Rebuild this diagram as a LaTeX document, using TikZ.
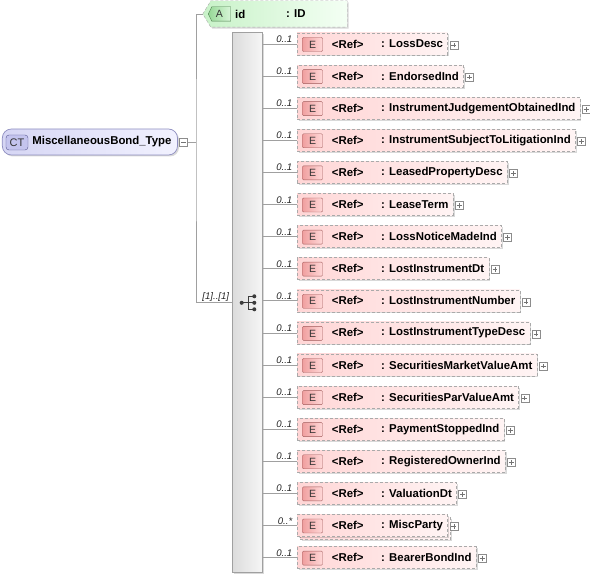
\documentclass[tikz,border=0pt]{standalone}
\usepackage{fontspec}
\setmainfont{Liberation Sans}
\usetikzlibrary{calc,shadows}
\definecolor{pinkL}{HTML}{FFD6D6}
\definecolor{pinkR}{HTML}{FFF4F4}
\definecolor{dashc}{HTML}{AAAAAA}
\definecolor{linec}{HTML}{A0A0A0}
\definecolor{eiconL}{HTML}{F0A0A0}
\definecolor{eiconR}{HTML}{FFD8D8}
\definecolor{eiconB}{HTML}{A05A5A}
\definecolor{greenL}{HTML}{C8F2C8}
\definecolor{greenR}{HTML}{F4FFF4}
\definecolor{aiconL}{HTML}{96D896}
\definecolor{aiconR}{HTML}{D8F6D8}
\definecolor{aiconB}{HTML}{4F7F4F}
\definecolor{ctL}{HTML}{D6D6F4}
\definecolor{ctR}{HTML}{F2F2FF}
\definecolor{ctB}{HTML}{8E8EC0}
\definecolor{cticonF}{HTML}{C4C4EE}
\definecolor{cticonB}{HTML}{55558F}
\definecolor{seqL}{HTML}{DCDCDC}
\definecolor{seqR}{HTML}{F6F6F6}
\definecolor{iconc}{HTML}{3C3C3C}
\newcommand\bfnt{\fontsize{11.4}{13}\selectfont\bfseries}
\newcommand\occfnt{\fontsize{9.6}{11}\selectfont\itshape}
\tikzset{
  shad/.style={drop shadow={shadow xshift=1.5pt,shadow yshift=-1.5pt,fill=black,opacity=0.15}},
  elem/.style={draw=dashc, dash pattern=on 3pt off 2pt, left color=pinkL, right color=pinkR,
    minimum height=22, inner xsep=0, inner ysep=0, anchor=west, font=\bfnt, shad},
  eicon/.style={draw=eiconB, left color=eiconL, right color=eiconR, minimum width=20,
    minimum height=14, inner sep=0, rounded corners=1pt, font=\fontsize{10.5}{12}\selectfont, text=black!80},
  reft/.style={anchor=west, font=\bfnt, inner sep=0},
  occ/.style={anchor=south east, font=\occfnt, inner sep=0, text=black!85},
  plusb/.style={draw=black!45, fill=white, minimum size=8, inner sep=0,
    path picture={\draw[black!55,line width=0.5pt]
      ([xshift=1.6pt]path picture bounding box.west) -- ([xshift=-1.6pt]path picture bounding box.east)
      ([yshift=1.6pt]path picture bounding box.south) -- ([yshift=-1.6pt]path picture bounding box.north);}},
  minusb/.style={draw=black!45, fill=white, minimum size=8, inner sep=0,
    path picture={\draw[black!55,line width=0.5pt]
      ([xshift=1.6pt]path picture bounding box.west) -- ([xshift=-1.6pt]path picture bounding box.east);}},
  conn/.style={draw=linec, line width=0.7pt},
}
\begin{document}
\begin{tikzpicture}[x=1pt,y=-1pt]
\useasboundingbox (0,0) rectangle (590,577);

% complex type node
\node[draw=ctB, left color=ctL, right color=ctR, rounded corners=9pt, minimum height=26,
  inner xsep=0, anchor=west, font=\bfnt, line width=0.7pt, shad] (ct) at (2,142)
  {\hspace*{30pt}MiscellaneousBond\_Type\hspace*{6pt}};
\node[draw=cticonB, fill=cticonF, rounded corners=3pt, minimum width=22, minimum height=15,
  inner sep=0, font=\fontsize{11}{12}\selectfont, text=black!80] (cticon) at (17,142.5) {CT};
\node[minusb] (ctminus) at (183.5,142) {};

% attribute id
\node[minimum width=144, minimum height=26, inner sep=0] (idb) at (275,14) {};
\path[draw=dashc, dash pattern=on 3pt off 2pt, left color=greenL, right color=greenR, shad]
  (idb.west) -- ($(idb.north west)+(8,0)$) -- (idb.north east) -- (idb.south east)
  -- ($(idb.south west)+(8,0)$) -- cycle;
\node[minimum width=22, minimum height=14, inner sep=0] (aicon) at (219.5,14) {};
\path[draw=aiconB, left color=aiconL, right color=aiconR]
  (aicon.west) -- ($(aicon.north west)+(3.5,0)$) -- (aicon.north east)
  -- (aicon.south east) -- ($(aicon.south west)+(3.5,0)$) -- cycle;
\node[font=\fontsize{10.5}{12}\selectfont, text=black!80] (aletter) at (aicon.center) {A};
\node[reft] (idname) at (235,14) {id};
\node[reft] (idtype) at (286,14) {: ID};

% sequence compositor
\node[draw=linec, left color=seqL, right color=seqR, minimum width=30, minimum height=540,
  inner sep=0, line width=0.7pt, shad] (seq) at (247.7,302.8) {};
\coordinate (sc) at (248,302.8);
\draw[iconc, line width=0.9pt] ($(sc)+(-6.3,0)$) -- ($(sc)+(0.3,0)$)
  ($(sc)+(0.3,-6.5)$) -- ($(sc)+(0.3,6.5)$)
  ($(sc)+(0.3,-6.5)$) -- ($(sc)+(6.3,-6.5)$)
  ($(sc)+(0.3,0)$) -- ($(sc)+(6.3,0)$)
  ($(sc)+(0.3,6.5)$) -- ($(sc)+(6.3,6.5)$);
\fill[iconc] ($(sc)+(-6.3,0)$) circle (2) ($(sc)+(6.3,-6.5)$) circle (2)
  ($(sc)+(6.3,0)$) circle (2) ($(sc)+(6.3,6.5)$) circle (2);

% trunk connectors
\coordinate (jn) at (196,142);
\draw[conn] (ctminus.east) -- (jn);
\draw[conn] (idb.west) -| (jn) |- (seq.west);
\node[occ] (seqocc) at ($(seq.west)+(-3,-1.2)$) {[1]..[1]};

% stacked back frame for MiscParty
\node[elem] (e16back) at (300,{44+15*32.1+3}) {\hspace*{84pt}\phantom{: MiscParty}\hspace*{4.5pt}};

\foreach \i/\nm/\oc in {1/LossDesc/1,2/EndorsedInd/1,3/InstrumentJudgementObtainedInd/1,
  4/InstrumentSubjectToLitigationInd/1,5/LeasedPropertyDesc/1,6/LeaseTerm/1,
  7/LossNoticeMadeInd/1,8/LostInstrumentDt/1,9/LostInstrumentNumber/1,
  10/LostInstrumentTypeDesc/1,11/SecuritiesMarketValueAmt/1,12/SecuritiesParValueAmt/1,
  13/PaymentStoppedInd/1,14/RegisteredOwnerInd/1,15/ValuationDt/1,16/MiscParty/*,
  17/BearerBondInd/1}{
  \pgfmathsetmacro\yy{44+(\i-1)*32.1}
  \node[elem] (e\i) at (297,\yy) {\hspace*{84pt}: \nm\hspace*{4.5pt}};
  \node[eicon] (ei\i) at ($(e\i.west)+(15.5,0.5)$) {E};
  \node[reft] (er\i) at ($(e\i.west)+(34.7,0)$) {<Ref>};
  \node[plusb] (ep\i) at ($(e\i.east)+(6,1)$) {};
  \draw[conn] (seq.east |- e\i.west) -- (e\i.west);
  \node[occ] (eo\i) at ($(e\i.west)+(-4.5,-1.2)$) {0..\oc};
}
\end{tikzpicture}
\end{document}
